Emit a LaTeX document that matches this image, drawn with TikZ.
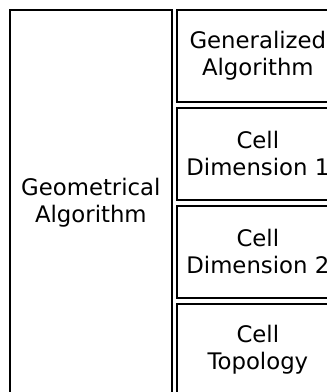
\documentclass[tikz,border=0pt]{standalone}
\usepackage{fontspec}
\setmainfont{DejaVu Sans}
\usetikzlibrary{positioning}
\begin{document}
\begin{tikzpicture}[x=1pt, y=1pt,
    block/.style={draw, line width=1.7pt, minimum width=162pt, inner sep=0pt,
      align=center, font=\fontsize{22.8}{27}\selectfont},
    part/.style={block, minimum height=92pt}]

        % Rahmen des Bildes
        \useasboundingbox (0,0) rectangle (327,-392);
        \clip (0,0) rectangle (327,-392);

        % linker Block
        \node[block, minimum height=386pt, anchor=north west] (geom) at (9,-9) {Geometrical\\Algorithm};

        % rechte Bloecke
        \node[part, anchor=north west] (gen) at (176,-9) {Generalized\\Algorithm};
        \node[part, below=4.3pt of gen] (dimA) {Cell\\Dimension 1};
        \node[part, below=4.3pt of dimA] (dimB) {Cell\\Dimension 2};
        \node[part, below=4.3pt of dimB] (topo) {Cell\\Topology};

    \end{tikzpicture}
\end{document}
